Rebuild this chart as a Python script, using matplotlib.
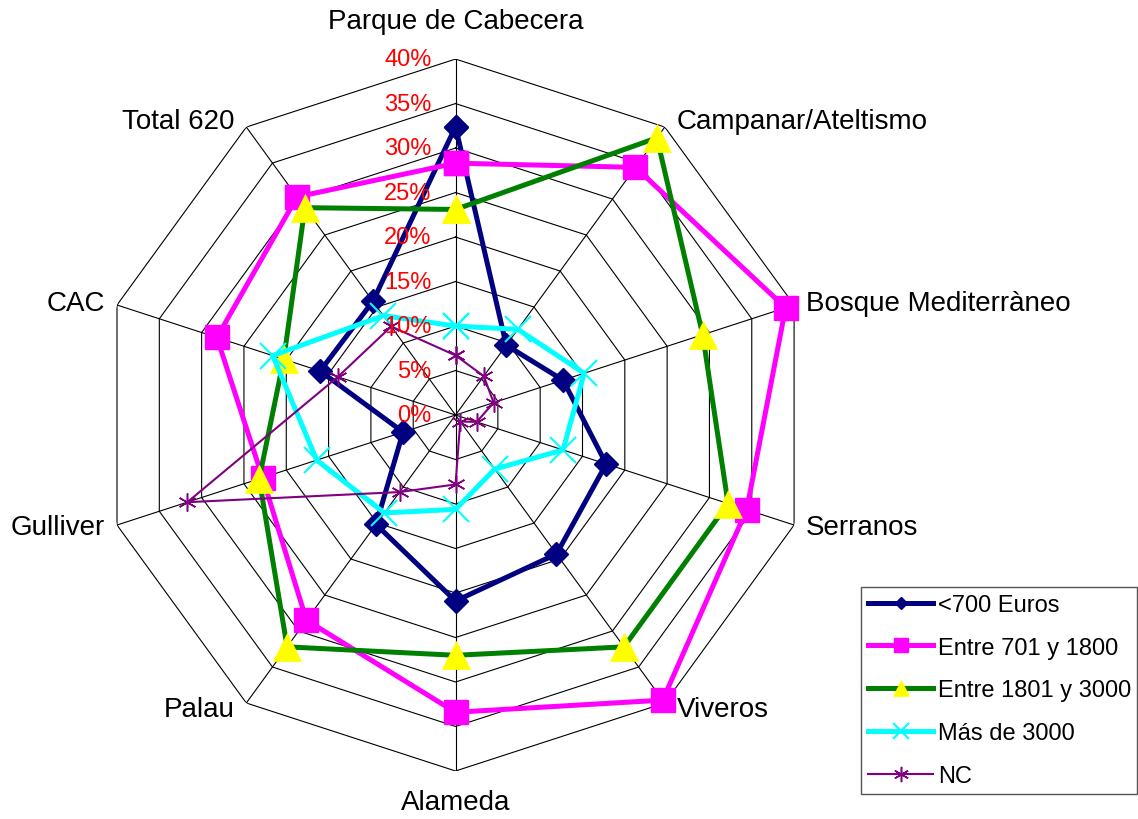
import numpy as np
import matplotlib
matplotlib.use('Agg')
from matplotlib import pyplot as plt
from matplotlib.transforms import offset_copy

plt.rcParams['font.family'] = ['Liberation Sans', 'DejaVu Sans']

categories = ['Parque de Cabecera', 'Campanar/Ateltismo', 'Bosque Mediterràneo', 'Serranos',
              'Viveros', 'Alameda', 'Palau', 'Gulliver', 'CAC', 'Total 620']
menos_700 = [32.4, 9.7, 12.7, 17.8, 19.3, 20.9, 15.2, 6.2, 16.0, 15.8]
entre_701_1800 = [28.3, 34.4, 39.0, 34.4, 39.6, 33.4, 28.5, 22.8, 28.2, 30.3]
entre_1801_3000 = [23.1, 38.5, 29.2, 32.2, 32.2, 27.0, 32.2, 23.2, 20.3, 28.8]
mas_3000 = [10.0, 11.9, 15.2, 12.7, 7.5, 10.6, 13.6, 16.4, 21.6, 13.8]
nc = [6.7, 5.4, 4.5, 2.5, 0.9, 7.8, 10.7, 31.7, 13.9, 12.3]
series_names = ['<700 Euros', 'Entre 701 y 1800', 'Entre 1801 y 3000', 'Más de 3000', 'NC']
rings = [0, 5, 10, 15, 20, 25, 30, 35, 40]
ring_labels = ['0%', '5%', '10%', '15%', '20%', '25%', '30%', '35%', '40%']

n = len(categories)
angles = np.arange(n) * 2 * np.pi / n
closed = np.append(angles, angles[0])

fig = plt.figure(figsize=(11.38, 8.2), dpi=100)
ax = fig.add_axes([0.0875, 0.0585, 0.6256, 0.8683], projection='polar')
ax.set_theta_zero_location('N')
ax.set_theta_direction(-1)
ax.set_ylim(0, 40)
ax.grid(False)
ax.set_xticks([])
ax.set_yticks([])
ax.spines['polar'].set_visible(False)

# polygon grid
for r in rings[1:]:
    ax.plot(closed, [r] * (n + 1), color='black', lw=0.8, zorder=1)
for a in angles:
    ax.plot([a, a], [0, 40], color='black', lw=0.8, zorder=1)

styles = [
    dict(color='#000080', lw=3.6, marker='D', ms=12.5, mfc='#000080', mec='#000080'),
    dict(color='#FF00FF', lw=3.6, marker='s', ms=17, mfc='#FF00FF', mec='#FF00FF'),
    dict(color='#008000', lw=3.6, marker='^', ms=20, mfc='#FFFF00', mec='#FFFF00', mew=0.5),
    dict(color='#00FFFF', lw=3.6, marker='x', ms=19, mec='#00FFFF', mew=1.5),
    dict(color='#800080', lw=1.5, marker=(6, 2, 0), ms=13, mec='#800080', mew=1.1),
]
for vals, name, st in zip([menos_700, entre_701_1800, entre_1801_3000, mas_3000, nc],
                          series_names, styles):
    ax.plot(closed, list(vals) + [vals[0]], label=name, zorder=3, clip_on=False, **st)

# radial labels
tr = offset_copy(ax.transData, fig=fig, x=-24, y=0, units='dots')
for r, lab in zip(rings, ring_labels):
    ax.text(0, r, lab, transform=tr, ha='right', va='center', color='red', fontsize=17, zorder=4)

# category labels
for a, cat in zip(angles, categories):
    s = np.sin(a)
    c = np.cos(a)
    if abs(s) < 1e-6:
        ha = 'center'
        dx, dy = 0, (38 if c > 0 else -31)
    elif s > 0:
        ha = 'left'
        dx, dy = 12, 8 * c
    else:
        ha = 'right'
        dx, dy = -12, 8 * c
    t = offset_copy(ax.transData, fig=fig, x=dx, y=dy, units='dots')
    ax.text(a, 40, cat, transform=t, ha=ha, va='center', fontsize=20)

leg = fig.legend(loc='lower left', bbox_to_anchor=(0.7566, 0.0305, 0.2424, 0.2561), mode='expand',
                 fontsize=17, handlelength=2.75, handletextpad=0.2, labelspacing=0.88,
                 borderpad=0.3, fancybox=False, framealpha=1,
                 edgecolor='#555555', borderaxespad=0)
leg.get_frame().set_linewidth(1.0)
for h, size in zip(leg.legend_handles, [6.6, 10, 12, 12, 11]):
    h.set_markersize(size)

fig.savefig('out.png', dpi=100)
